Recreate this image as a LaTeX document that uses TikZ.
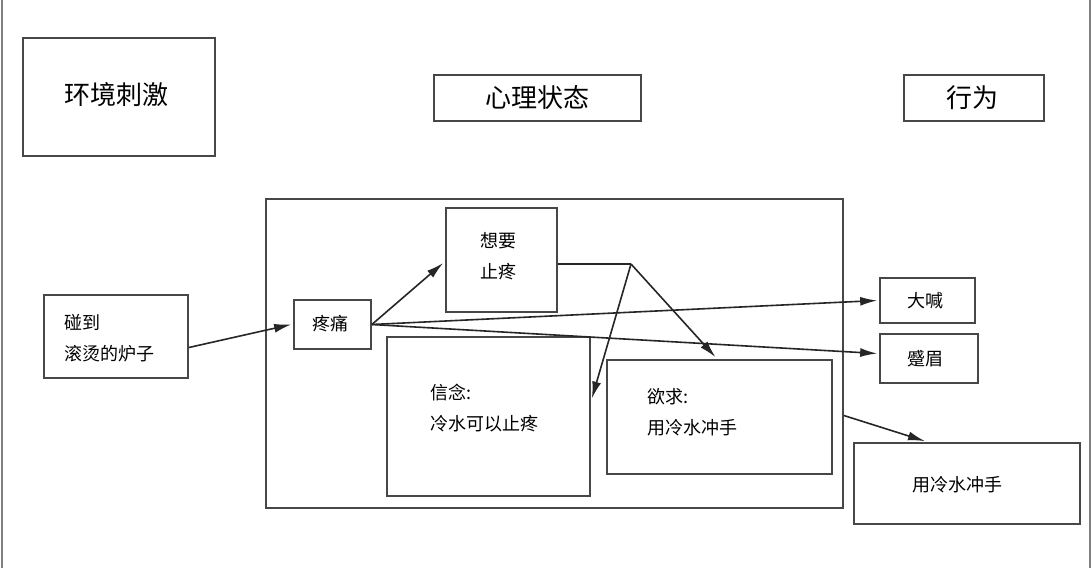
\documentclass[tikz,border=0pt]{standalone}
\usepackage{fontspec}
\setmainfont{Noto Sans CJK SC}
\usetikzlibrary{arrows.meta,calc}
\tikzset{
  box/.style={draw=black!72, line width=1.7pt, fill=white, inner sep=0pt},
  txt/.style={inner sep=0pt, font=\fontsize{18}{31}\selectfont, align=left},
  big/.style={inner sep=0pt, font=\fontsize{26}{30}\selectfont},
  conn/.style={draw=black!85, line width=1.6pt},
  arr/.style={conn, -{Latex[length=17pt,width=9pt]}},
  frame/.style={draw=black!50, line width=2pt}
}
\begin{document}
\begin{tikzpicture}[x=1pt,y=-1pt]
\useasboundingbox (0,0) rectangle (1092,568);
\draw[frame] (1.5,0) -- (1.5,568);
\draw[frame] (1090,0) -- (1090,568);
% header boxes
\node[box, minimum width=192pt, minimum height=118pt] (env) at (119,97) {};
\node[big] (envt) at (116,95) {环境刺激};
\node[box, minimum width=207pt, minimum height=46pt] (mind) at (537.5,98) {};
\node[big] (mindt) at (537,98) {心理状态};
\node[box, minimum width=140pt, minimum height=46pt] (act) at (974,98) {};
\node[big] (actt) at (972,98) {行为};
% big box
\node[box, minimum width=577pt, minimum height=309pt] (bigbox) at (554.5,353.5) {};
\node[box, minimum width=111pt, minimum height=104pt] (want) at (501.5,260) {};
\node[txt, anchor=west] (wantt) at (480,256) {想要\\止疼};
\node[box, minimum width=77pt, minimum height=49pt] (pain) at (332.5,324.5) {};
\node[txt] (paint) at (330,324) {疼痛};
\node[box, minimum width=203pt, minimum height=159pt] (belief) at (488.5,416.5) {};
\node[txt, anchor=west] (belieft) at (430,408) {信念:\\冷水可以止疼};
\node[box, minimum width=225pt, minimum height=114pt] (desire) at (719.5,417) {};
\node[txt, anchor=west] (desiret) at (647,412) {欲求:\\用冷水冲手};
% left
\node[box, minimum width=144pt, minimum height=83pt] (touch) at (116,336.5) {};
\node[txt, anchor=west] (toucht) at (64,338) {碰到\\滚烫的炉子};
% right
\node[box, minimum width=95pt, minimum height=45pt] (shout) at (927.5,300.5) {};
\node[txt] (shoutt) at (925,301) {大喊};
\node[box, minimum width=98pt, minimum height=49pt] (frown) at (929,358.5) {};
\node[txt] (frownt) at (925,359) {蹙眉};
\node[box, minimum width=226pt, minimum height=81pt] (rinse) at (967,483.5) {};
\node[txt] (rinset) at (957,485) {用冷水冲手};
% connectors
\draw[arr] ([yshift=-11pt]touch.east) -- ([xshift=-2pt]pain.west);
\draw[arr] (pain.east) -- ([yshift=-3pt,xshift=-2pt]want.west);
\coordinate (j) at (631,264);
\draw[conn] ([yshift=-4pt]want.east) -- (j);
\draw[arr] (j) -- ([xshift=-4pt,yshift=2pt]desire.north);
\draw[arr] (j) -- ([yshift=18pt,xshift=1pt]belief.east);
\draw[arr] (pain.east) -- ([xshift=-2pt]shout.west);
\draw[arr] (pain.east) -- ([yshift=5pt,xshift=-2pt]frown.west);
\draw[arr] ([yshift=-62pt]bigbox.east) -- ([xshift=-42pt,yshift=1pt]rinse.north);
\end{tikzpicture}
\end{document}
